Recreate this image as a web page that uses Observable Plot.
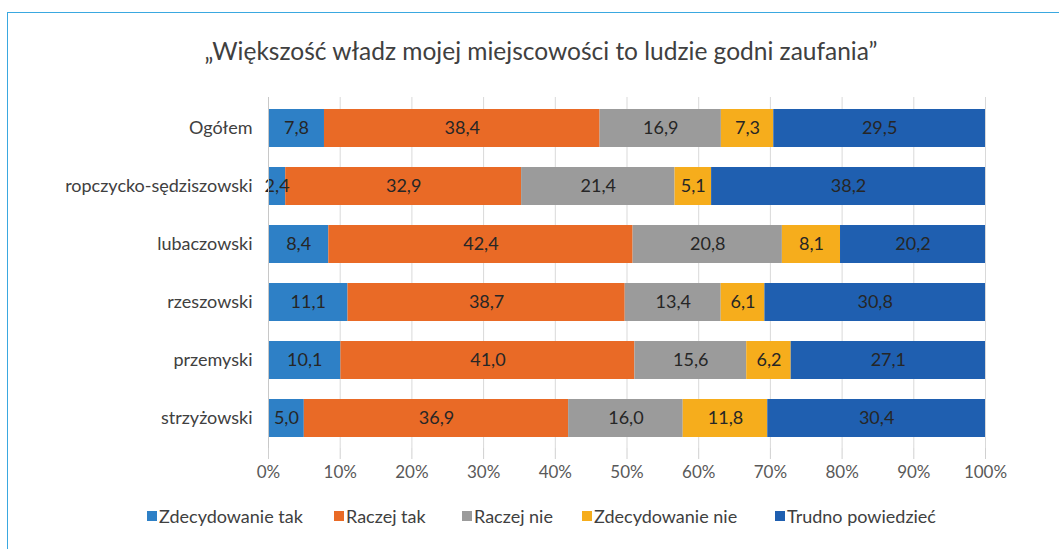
<!DOCTYPE html>
<html>
<head>
<meta charset="utf-8">
<script src="https://cdn.jsdelivr.net/npm/d3@7"></script>
<script src="https://cdn.jsdelivr.net/npm/@observablehq/plot@0.6"></script>
<style>
  html, body { margin: 0; padding: 0; background: #fff; }
  #wrap { position: relative; width: 1059px; height: 549px; overflow: hidden; font-family: Lato, "Open Sans", sans-serif; }
  #frame { position: absolute; left: 7px; top: 12px; width: 1100px; height: 600px; border-left: 1.5px solid #3aa8e0; border-top: 1.5px solid #3aa8e0; }
  #title { position: absolute; left: 0; width: 1082px; top: 36px; text-align: center; font-size: 24.5px; color: #404040; }
  #chart { position: absolute; left: 0; top: 90px; }
  .lg { position: absolute; top: 505px; font-size: 18px; color: #404040; display: flex; align-items: center; white-space: nowrap; }
  .lg span.sw { display: inline-block; width: 10px; height: 10px; margin-right: 2px; }
</style>
</head>
<body>
<div id="wrap">
  <div id="frame"></div>
  <div id="title">„Większość władz mojej miejscowości to ludzie godni zaufania”</div>
  <div id="chart"></div>
  <div id="legend"></div>
</div>
<script>
const regions = ["Ogółem", "ropczycko-sędziszowski", "lubaczowski", "rzeszowski", "przemyski", "strzyżowski"];
const categories = ["Zdecydowanie tak", "Raczej tak", "Raczej nie", "Zdecydowanie nie", "Trudno powiedzieć"];
const colors = ["#2e80c6", "#e96a26", "#9b9b9b", "#f6ad1c", "#1f5fb0"];
const zdecydowanieTak = [7.8, 2.4, 8.4, 11.1, 10.1, 5.0];
const raczejTak = [38.4, 32.9, 42.4, 38.7, 41.0, 36.9];
const raczejNie = [16.9, 21.4, 20.8, 13.4, 15.6, 16.0];
const zdecydowanieNie = [7.3, 5.1, 8.1, 6.1, 6.2, 11.8];
const trudnoPowiedziec = [29.5, 38.2, 20.2, 30.8, 27.1, 30.4];
const tickValues = [0, 0.1, 0.2, 0.3, 0.4, 0.5, 0.6, 0.7, 0.8, 0.9, 1];
const legendX = [147, 334, 462, 582, 775];

const series = [zdecydowanieTak, raczejTak, raczejNie, zdecydowanieNie, trudnoPowiedziec];
const data = [];
regions.forEach((r, i) => {
  categories.forEach((c, j) => {
    data.push({region: r, category: c, value: series[j][i]});
  });
});

const fmt = v => v.toFixed(1).replace(".", ",");
const font = "Lato, 'Open Sans', sans-serif";

const chart = Plot.plot({
  width: 1059,
  height: 400,
  marginTop: 7,
  marginBottom: 42,
  marginLeft: 268,
  marginRight: 74,
  style: {fontFamily: font, background: "transparent"},
  x: {domain: [0, 1], label: null},
  y: {domain: regions, paddingInner: 0.35, paddingOuter: 0.175, label: null},
  color: {domain: categories, range: colors},
  marks: [
    Plot.gridX({ticks: tickValues, stroke: "#d9d9d9", strokeOpacity: 1}),
    Plot.barX(data, Plot.stackX({offset: "normalize", x: "value", y: "region", fill: "category", order: categories})),
    Plot.text(data, Plot.stackX({offset: "normalize", x: "value", y: "region", z: "category", order: categories, text: d => fmt(d.value), fontSize: 18, fill: "#262626"})),
    Plot.ruleX([0], {stroke: "#c8c8c8"}),
    Plot.axisX({ticks: tickValues, tickFormat: d => Math.round(d * 100) + "%", tickSize: 11, tickPadding: 6, fontSize: 17, color: "#595959", label: null}),
    Plot.axisY({tickSize: 0, tickPadding: 16, fontSize: 18, color: "#404040", label: null})
  ]
});
chart.querySelectorAll("g[aria-label='x-axis tick'] path").forEach(p => p.setAttribute("stroke", "#d0d0d0"));
document.getElementById("chart").appendChild(chart);

const lg = document.getElementById("legend");
categories.forEach((c, i) => {
  const d = document.createElement("div");
  d.className = "lg";
  d.style.left = legendX[i] + "px";
  d.innerHTML = `<span class="sw" style="background:${colors[i]}"></span>${c}`;
  lg.appendChild(d);
});
</script>
</body>
</html>
